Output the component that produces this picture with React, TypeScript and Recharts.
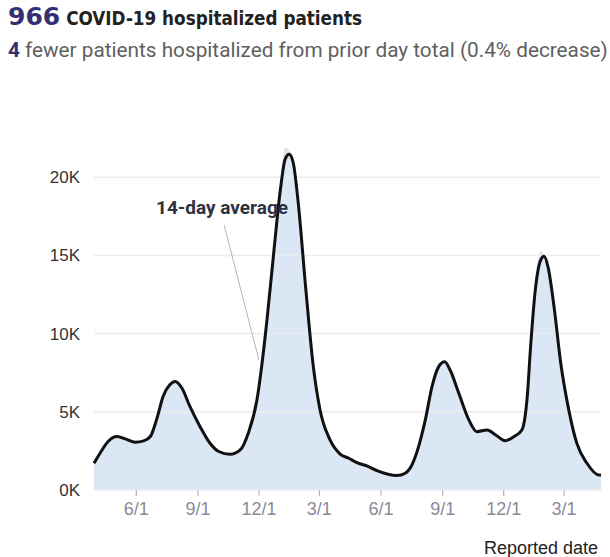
import React from "react";
import { Area, ComposedChart, Line, ReferenceLine, XAxis, YAxis } from "recharts";

// reported dates (roughly one point per 1-2 weeks)
const dates = [
  "2020-03-30", "2020-04-08", "2020-04-20", "2020-05-03", "2020-05-13", "2020-05-30",
  "2020-06-12", "2020-06-22", "2020-07-02", "2020-07-11", "2020-07-21", "2020-07-29",
  "2020-08-08", "2020-08-20", "2020-09-04", "2020-09-19", "2020-10-02", "2020-10-19",
  "2020-11-03", "2020-11-15", "2020-11-28", "2020-12-05", "2020-12-13", "2020-12-23",
  "2021-01-02", "2021-01-09", "2021-01-15", "2021-01-21", "2021-01-29", "2021-02-08",
  "2021-02-20", "2021-03-02", "2021-03-17", "2021-04-01", "2021-04-14", "2021-04-26",
  "2021-05-11", "2021-05-26", "2021-06-10", "2021-06-25", "2021-07-07", "2021-07-17",
  "2021-07-27", "2021-08-06", "2021-08-16", "2021-08-26", "2021-09-04", "2021-09-12",
  "2021-09-25", "2021-10-10", "2021-10-22", "2021-11-06", "2021-11-19", "2021-12-03",
  "2021-12-16", "2021-12-28", "2022-01-05", "2022-01-10", "2022-01-17", "2022-01-25",
  "2022-01-30", "2022-02-05", "2022-02-14", "2022-02-24", "2022-03-08", "2022-03-20",
  "2022-04-04", "2022-04-22", "2022-04-25",
];

// 14-day average (black line)
const avg = [
  1710, 2350, 3100, 3420, 3310, 3060,
  3140, 3420, 4600, 5980, 6730, 6940,
  6520, 5340, 4060, 2990, 2460, 2280,
  2560, 3630, 5770, 7900, 10900, 15170,
  19230, 21150, 21470, 20940, 18160, 13250,
  7900, 5130, 3200, 2300, 2030, 1750,
  1540, 1240, 1020, 920, 1070, 1600,
  2770, 4480, 6610, 7890, 8200, 7670,
  6180, 4480, 3730, 3840, 3520, 3150,
  3410, 3840, 5960, 9160, 12780, 14700,
  14950, 14270, 11710, 8100, 5110, 2980,
  1710, 960, 966,
];

// daily hospitalized (light blue area)
const daily = [
  1700, 2400, 3150, 3450, 3300, 3050,
  3150, 3500, 4750, 6100, 6850, 7000,
  6500, 5300, 4000, 2950, 2450, 2280,
  2600, 3750, 6000, 8300, 11400, 15800,
  19900, 21900, 21700, 20800, 17800, 12800,
  7600, 5000, 3150, 2280, 2000, 1730,
  1520, 1220, 1000, 920, 1100, 1700,
  2950, 4700, 6900, 8100, 8250, 7600,
  6100, 4450, 3720, 3850, 3500, 3150,
  3450, 3950, 6400, 9800, 13400, 15300,
  15000, 14100, 11400, 7800, 4950, 2900,
  1680, 960, 966,
];

const tickDates = ["2020-06-01", "2020-09-01", "2020-12-01", "2021-03-01", "2021-06-01", "2021-09-01", "2021-12-01", "2022-03-01"];
const yTicks = [0, 5000, 10000, 15000, 20000];

const ts = (d: string) => Date.parse(d + "T00:00:00Z");
const data = dates.map((d, i) => ({ t: ts(d), avg: avg[i], daily: daily[i] }));

const fmtDate = (v: number) => {
  const d = new Date(v);
  return `${d.getUTCMonth() + 1}/${d.getUTCDate()}`;
};

const PURPLE = "#332f74";
const SANS = "'Liberation Sans', Arial, sans-serif";

export default function App() {
  return (
    <div style={{ position: "relative", width: 610, height: 557, overflow: "hidden", fontFamily: "Roboto, sans-serif" }}>
      <style>{"body{margin:0}"}</style>
      <div style={{ position: "absolute", left: 8, top: 2, whiteSpace: "nowrap", lineHeight: "30px" }}>
        <span style={{ color: PURPLE, fontWeight: 700, fontSize: 25, fontFamily: "'DejaVu Sans', sans-serif" }}>966</span>
        <span style={{ color: "#222", fontWeight: 700, fontSize: 18.7, marginLeft: 6, fontFamily: "'Liberation Sans Narrow', 'DejaVu Sans Condensed', Roboto, sans-serif" }}>
          COVID-19 hospitalized patients
        </span>
      </div>
      <div style={{ position: "absolute", left: 8, top: 38, whiteSpace: "nowrap", fontSize: 20.75, color: "#5f5f5f", lineHeight: "24px" }}>
        <span style={{ color: PURPLE, fontWeight: 700 }}>4</span> fewer patients hospitalized from prior day total (0.4% decrease)
      </div>

      <div style={{ position: "absolute", left: 8, top: 68 }}>
        <ComposedChart width={600} height={452} data={data} margin={{ top: 31, right: 7, bottom: 0, left: 0 }}>
          {yTicks.map((v) => (
            <ReferenceLine key={v} y={v} stroke="#ececec" strokeWidth={1.5} />
          ))}
          <XAxis
            dataKey="t"
            type="number"
            domain={["dataMin", "dataMax"]}
            ticks={tickDates.map(ts)}
            tickFormatter={fmtDate}
            axisLine={false}
            tickLine={{ stroke: "#aaa" }}
            tickSize={6}
            tickMargin={6}
            tick={{ fill: "#8a8a9a", fontSize: 18, fontFamily: SANS }}
            height={30}
          />
          <YAxis
            domain={[0, 25000]}
            ticks={yTicks}
            tickFormatter={(v: number) => `${v / 1000}K`}
            axisLine={false}
            tickLine={false}
            tickMargin={8}
            width={86}
            tick={{ fill: "#333", fontSize: 17, fontFamily: SANS }}
          />
          <Area type="monotone" dataKey="daily" stroke="none" fill="#dbe7f4" fillOpacity={1} isAnimationActive={false} />
          <ReferenceLine
            segment={[{ x: ts("2020-10-10"), y: 16950 }, { x: ts("2020-12-01"), y: 8300 }]}
            stroke="#b5b5b5"
            strokeWidth={1}
          />
          <Line type="monotone" dataKey="avg" stroke="#111" strokeWidth={3} dot={false} isAnimationActive={false} />
        </ComposedChart>
      </div>

      <div style={{ position: "absolute", left: 156, top: 197, fontSize: 19, lineHeight: "22px", fontWeight: 700, color: "#2e3140", whiteSpace: "nowrap" }}>
        14-day average
      </div>

      <div style={{ position: "absolute", right: 12, top: 538, fontSize: 18, lineHeight: "20px", color: "#222", whiteSpace: "nowrap", fontFamily: SANS }}>
        Reported date
      </div>
    </div>
  );
}
